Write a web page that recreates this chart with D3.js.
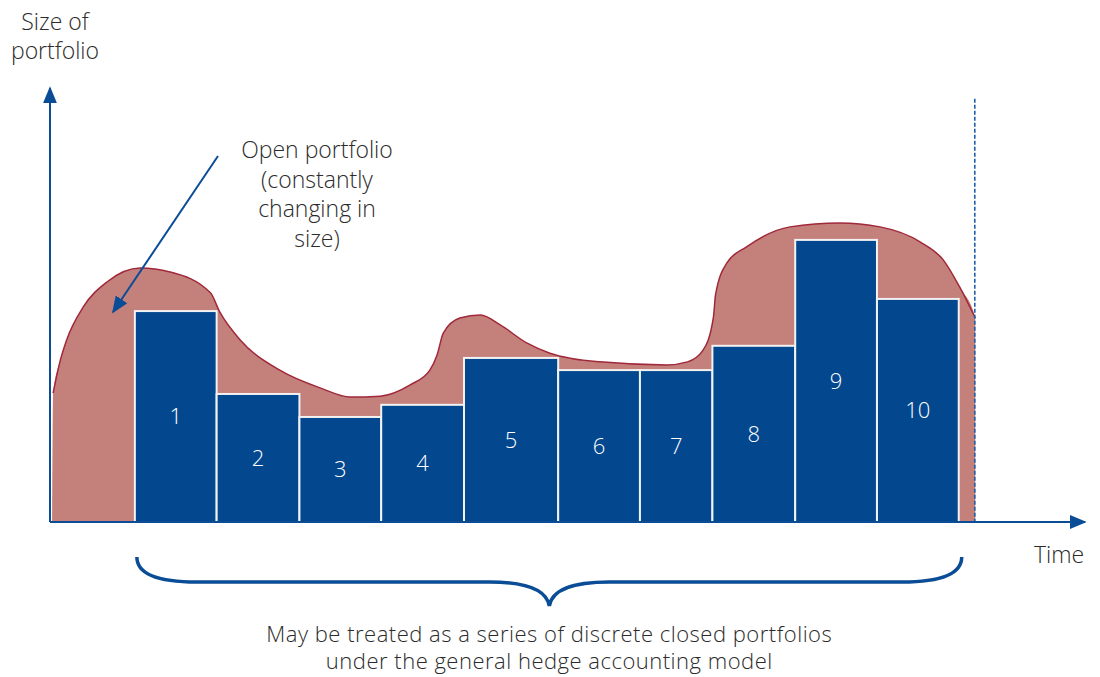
<!DOCTYPE html>
<html>
<head>
<meta charset="utf-8">
<script src="https://cdn.jsdelivr.net/npm/d3@7"></script>
<style>
  html, body { margin: 0; padding: 0; background: #fff; }
  text { font-family: "Open Sans", "Liberation Sans", sans-serif; font-weight: 300; fill: #2b2b2b; }
</style>
</head>
<body>
<svg id="chart" width="1100" height="677"></svg>
<script>
// closed portfolios (bars): start / end along time, size
const barLabels = ["1", "2", "3", "4", "5", "6", "7", "8", "9", "10"];
const barStart = [8.2, 16.1, 24.1, 32.0, 40.0, 49.1, 57.0, 64.0, 72.0, 79.9];
const barEnd = [16.1, 24.1, 32.0, 40.0, 49.1, 57.0, 64.0, 72.0, 79.9, 87.8];
const barSize = [48.6, 29.5, 24.2, 27.0, 37.8, 35.0, 35.0, 40.6, 65.0, 51.4];

// open portfolio outline (time, size)
const openTime = [0.2, 0.3, 1.0, 1.6, 3.2, 5.5, 8.7, 11.6, 15.5, 16.4, 18.4, 22.2, 26.1, 29.0, 31.9, 34.8, 36.7, 37.4, 38.0, 39.6, 41.6, 43.5, 46.1, 48.3, 53.1, 59.6, 61.6, 63.1, 64.1, 64.3, 65.4, 67.3, 71.5, 76.3, 80.2, 84.1, 86.3, 87.9, 89.4];
const openSize = [0, 29.7, 37.3, 41.9, 49.5, 55.3, 58.5, 57.6, 52.8, 48.4, 41.9, 35.0, 30.9, 28.8, 29.0, 31.6, 35.0, 38.5, 43.5, 47.0, 47.7, 45.4, 41.2, 38.9, 36.9, 36.2, 36.9, 39.6, 47.2, 52.3, 59.7, 63.4, 68.0, 68.9, 68.0, 64.5, 60.4, 54.1, 47.0];

const openNote = ["Open portfolio", "(constantly", "changing in", "size)"];
const yTitle = ["Size of", "portfolio"];
const xTitle = "Time";
const braceNote = ["May be treated as a series of discrete closed portfolios", "under the general hedge accounting model"];

const blue = "#03478f";
const axisBlue = "#0b4c96";

const svg = d3.select("#chart");
const x = d3.scaleLinear().domain([0, 100]).range([50, 1085]);
const y = d3.scaleLinear().domain([0, 100]).range([522, 88]);

const defs = svg.append("defs");
defs.append("marker")
  .attr("id", "head")
  .attr("viewBox", "0 0 10 10")
  .attr("refX", 9).attr("refY", 5)
  .attr("markerWidth", 17).attr("markerHeight", 14)
  .attr("markerUnits", "userSpaceOnUse")
  .attr("orient", "auto")
  .attr("preserveAspectRatio", "none")
  .append("path").attr("d", "M0,0 L10,5 L0,10 Z").attr("fill", axisBlue);

// open portfolio area
const openData = openTime.map((t, i) => ({ t, s: openSize[i] }));
openData.push({ t: openTime[openTime.length - 1], s: 0 });
const area = d3.area()
  .x((d) => x(d.t))
  .y0(y(0))
  .y1((d) => y(d.s))
  .curve(d3.curveMonotoneX);
svg.append("path")
  .datum(openData)
  .attr("d", area)
  .attr("fill", "#c4817b");
const line = d3.line()
  .x((d) => x(d.t))
  .y((d) => y(d.s))
  .curve(d3.curveMonotoneX);
svg.append("path")
  .datum(openData.slice(1, -1))
  .attr("d", line)
  .attr("fill", "none")
  .attr("stroke", "#a0283b")
  .attr("stroke-width", 1.5);

// closed portfolios
const bars = barLabels.map((l, i) => ({ l, a: barStart[i], b: barEnd[i], s: barSize[i] }));
svg.append("g")
  .selectAll("rect")
  .data(bars)
  .join("rect")
  .attr("x", (d) => x(d.a))
  .attr("y", (d) => y(d.s))
  .attr("width", (d) => x(d.b) - x(d.a))
  .attr("height", (d) => y(0) - y(d.s))
  .attr("fill", blue)
  .attr("stroke", "#f2f2f2")
  .attr("stroke-width", 2);
svg.append("g")
  .selectAll("text")
  .data(bars)
  .join("text")
  .attr("x", (d) => (x(d.a) + x(d.b)) / 2)
  .attr("y", (d) => (y(d.s) + y(0)) / 2)
  .attr("dy", "0.36em")
  .attr("text-anchor", "middle")
  .style("fill", "#fff")
  .style("font-size", "22px")
  .text((d) => d.l);

// dotted end marker
const tEnd = openTime[openTime.length - 1];
svg.append("line")
  .attr("x1", x(tEnd) - 0.5).attr("x2", x(tEnd) - 0.5)
  .attr("y1", y(97.5)).attr("y2", y(0))
  .attr("stroke", "#1f5fa8")
  .attr("stroke-width", 1.6)
  .attr("stroke-dasharray", "4,2");

// axes
svg.append("line")
  .attr("x1", x(0)).attr("y1", y(0))
  .attr("x2", x(0)).attr("y2", y(100))
  .attr("stroke", axisBlue).attr("stroke-width", 2)
  .attr("marker-end", "url(#head)");
svg.append("line")
  .attr("x1", x(0)).attr("y1", y(0))
  .attr("x2", x(100)).attr("y2", y(0))
  .attr("stroke", axisBlue).attr("stroke-width", 2)
  .attr("marker-end", "url(#head)");

svg.append("text")
  .attr("x", 55).attr("y", 30)
  .attr("text-anchor", "middle")
  .style("font-size", "23px")
  .selectAll("tspan")
  .data(yTitle)
  .join("tspan")
  .attr("x", 55)
  .attr("dy", (d, i) => (i ? 29 : 0))
  .text((d) => d);

svg.append("text")
  .attr("x", 1059).attr("y", 563)
  .attr("text-anchor", "middle")
  .style("font-size", "23px")
  .text(xTitle);

// annotation
svg.append("text")
  .attr("y", 158)
  .attr("text-anchor", "middle")
  .style("font-size", "23px")
  .selectAll("tspan")
  .data(openNote)
  .join("tspan")
  .attr("x", 317)
  .attr("dy", (d, i) => (i ? 29.5 : 0))
  .text((d) => d);
svg.append("line")
  .attr("x1", 218).attr("y1", 156)
  .attr("x2", 113).attr("y2", 312)
  .attr("stroke", axisBlue).attr("stroke-width", 2)
  .attr("marker-end", "url(#head)");

// brace under the closed portfolios
const bx0 = x(barStart[0]) + 2;
const bx1 = x(barEnd[barEnd.length - 1]) + 3;
const bm = (bx0 + bx1) / 2;
const by0 = y(0) + 35, by1 = y(0) + 60, by2 = y(0) + 84;
const brace = d3.path();
brace.moveTo(bx0, by0);
brace.quadraticCurveTo(bx0, by1, bx0 + 60, by1);
brace.lineTo(bm - 60, by1);
brace.quadraticCurveTo(bm - 4, by1, bm, by2);
brace.quadraticCurveTo(bm + 4, by1, bm + 60, by1);
brace.lineTo(bx1 - 60, by1);
brace.quadraticCurveTo(bx1, by1, bx1, by0);
svg.append("path")
  .attr("d", brace.toString())
  .attr("fill", "none")
  .attr("stroke", axisBlue)
  .attr("stroke-width", 3.5);

const noteLines = svg.append("g")
  .selectAll("text")
  .data(braceNote)
  .join("text")
  .attr("x", bm)
  .attr("y", (d, i) => 642 + i * 27)
  .attr("text-anchor", "middle")
  .style("font-size", "22px")
  .style("letter-spacing", "0.5px")
  .text((d) => d);
</script>
</body>
</html>
